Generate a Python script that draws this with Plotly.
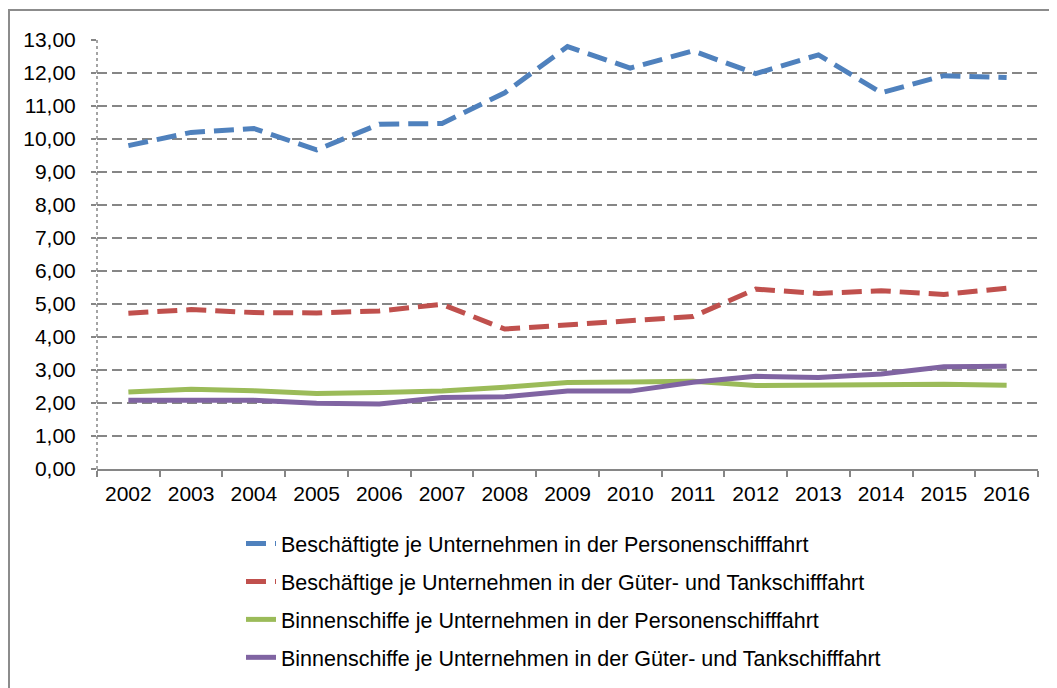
import plotly.graph_objects as go

years = ["2002", "2003", "2004", "2005", "2006", "2007", "2008", "2009",
         "2010", "2011", "2012", "2013", "2014", "2015", "2016"]

besch_personen = [9.80, 10.20, 10.32, 9.67, 10.45, 10.47, 11.40, 12.80,
                  12.15, 12.67, 11.98, 12.55, 11.40, 11.92, 11.86]
besch_gueter = [4.72, 4.83, 4.74, 4.73, 4.79, 4.99, 4.24, 4.37,
                4.50, 4.62, 5.45, 5.32, 5.40, 5.29, 5.48]
schiffe_personen = [2.33, 2.42, 2.37, 2.29, 2.32, 2.36, 2.48, 2.62,
                    2.64, 2.66, 2.53, 2.55, 2.54, 2.57, 2.54]
schiffe_gueter = [2.08, 2.08, 2.08, 1.99, 1.97, 2.17, 2.19, 2.36,
                  2.36, 2.63, 2.81, 2.77, 2.88, 3.10, 3.11]

names = [
    "Beschäftigte je Unternehmen in der Personenschifffahrt",
    "Beschäftige je Unternehmen in der Güter- und Tankschifffahrt",
    "Binnenschiffe je Unternehmen in der Personenschifffahrt",
    "Binnenschiffe je Unternehmen in der Güter- und Tankschifffahrt",
]
colors = ["#4F81BD", "#C0504D", "#9BBB59", "#8064A2"]
dashes = ["20px,9px", "20px,9px", "solid", "solid"]
series = [besch_personen, besch_gueter, schiffe_personen, schiffe_gueter]

FONT = "Liberation Sans, Arial, sans-serif"
GRID = "#868686"

# the page body adds an 8px offset, so the figure is 8px smaller
OFF = 8
W, H = 1057 - OFF, 688 - OFF
L, R, T, B = 97 - OFF, 19, 40 - OFF, 219
PW = W - L - R
PH = H - T - B


def py(y_screen):
    return (H - B - (y_screen - OFF)) / PH


def px(x_screen):
    return ((x_screen - OFF) - L) / PW


fig = go.Figure()
for i, (nm, vals) in enumerate(zip(names, series)):
    fig.add_trace(go.Scatter(
        x=years, y=vals, name=nm, mode="lines",
        line=dict(color=colors[i], width=5, dash=dashes[i]),
        legendgroup=f"g{i}",
    ))

fig.update_layout(
    width=W, height=H,
    margin=dict(l=L, r=R, t=T, b=B, autoexpand=False),
    paper_bgcolor="white", plot_bgcolor="white",
    separators=",.",
    font=dict(family=FONT, size=21, color="black"),
    showlegend=True,
    legend=dict(
        x=px(241), xanchor="left",
        y=py(523), yanchor="top",
        orientation="v", traceorder="grouped", tracegroupgap=7,
        font=dict(family=FONT, size=21.5, color="black"),
        bgcolor="rgba(0,0,0,0)",
    ),
    xaxis=dict(
        type="category", showgrid=False, zeroline=False, automargin=False,
        showline=True, linecolor=GRID, linewidth=1.5,
        ticks="outside", ticklen=6, tickcolor=GRID, tickwidth=1.5,
        tickson="boundaries", tickfont=dict(size=21),
        ticklabelstandoff=5,
        range=[-0.5, 14.5],
    ),
    yaxis=dict(
        range=[0, 13], dtick=1, tickformat=".2f", automargin=False,
        showgrid=True, gridcolor=GRID, gridwidth=1.5, griddash="10px,5px",
        zeroline=False, showline=False,
        ticks="outside", ticklen=5, tickcolor=GRID, tickwidth=1.5,
        ticklabelstandoff=11,
        tickfont=dict(size=21),
    ),
    shapes=[
        # dotted value axis line
        dict(type="line", xref="paper", yref="paper", x0=0, x1=0, y0=0, y1=1,
             line=dict(color=GRID, width=1.5, dash="dot")),
        # outer chart border
        dict(type="rect", xref="paper", yref="paper",
             x0=px(9), x1=px(1090),
             y0=py(720), y1=py(10),
             line=dict(color="#8C8C8C", width=2), fillcolor="rgba(0,0,0,0)",
             layer="below"),
    ],
)

fig.write_html("out.html")
